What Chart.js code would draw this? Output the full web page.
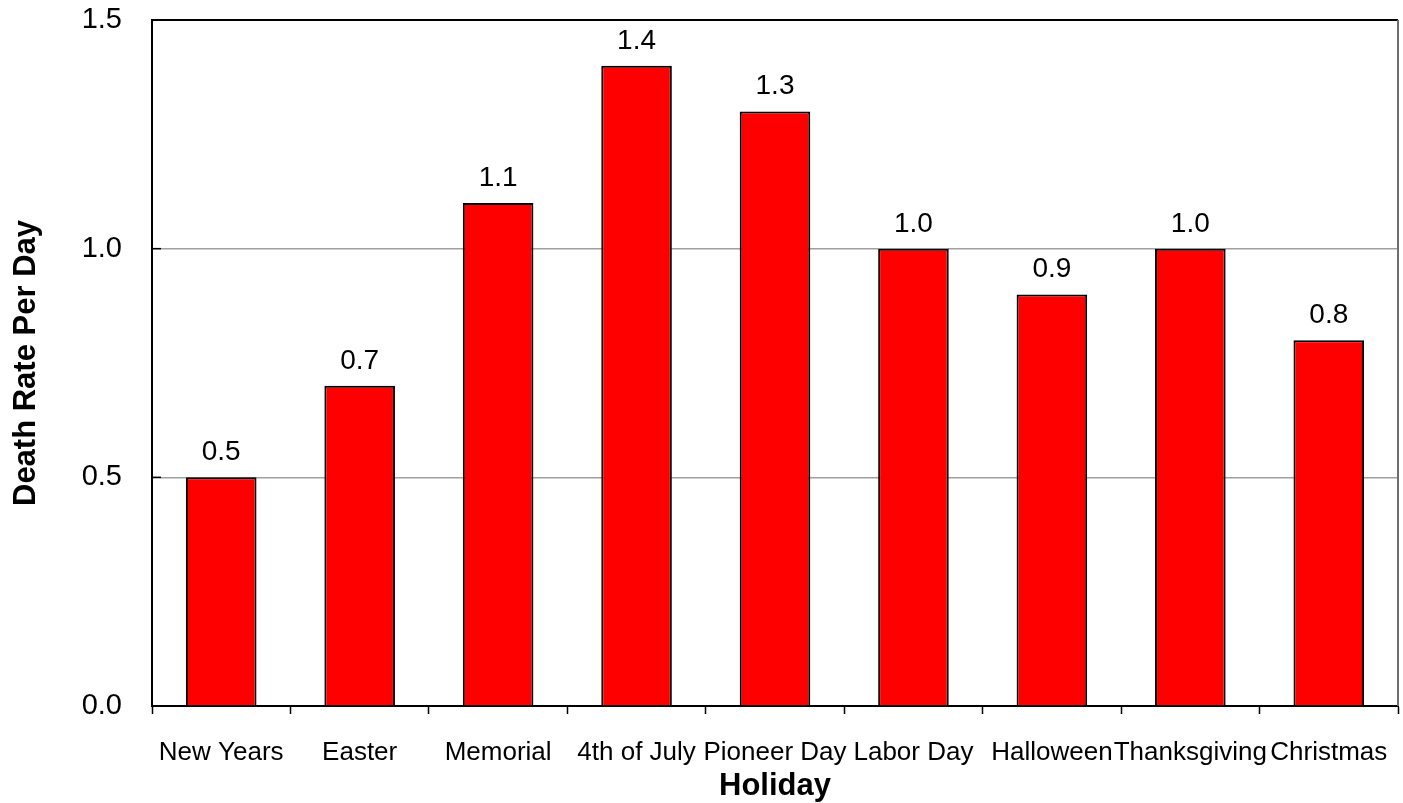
<!DOCTYPE html>
<html>
<head>
<meta charset="utf-8">
<script src="https://cdn.jsdelivr.net/npm/chart.js@4"></script>
<style>
  html, body { margin: 0; padding: 0; background: #fff; }
  #wrap { width: 1403px; height: 803px; }
</style>
</head>
<body>
<div id="wrap"><canvas id="holidayChart" width="1403" height="803"></canvas></div>
<script>
// chart data
const holidays = ['New Years', 'Easter', 'Memorial', '4th of July', 'Pioneer Day', 'Labor Day', 'Halloween', 'Thanksgiving', 'Christmas'];
const deathRates = [0.5, 0.7, 1.1, 1.4, 1.3, 1.0, 0.9, 1.0, 0.8];
const yTicks = [0.0, 0.5, 1.0, 1.5];

const FONT = '"Liberation Sans", Arial, sans-serif';

// value labels above bars, inner y ticks, top/right frame
const extrasPlugin = {
    id: 'extras',
    afterDatasetsDraw(chart) {
        const ctx = chart.ctx;
        const area = chart.chartArea;
        const y = chart.scales.y;
        ctx.save();

        // frame top + right
        ctx.strokeStyle = '#000';
        ctx.lineWidth = 2;
        ctx.beginPath();
        ctx.moveTo(area.left, area.top);
        ctx.lineTo(area.right, area.top);
        ctx.stroke();
        ctx.strokeStyle = '#6e6e6e';
        ctx.beginPath();
        ctx.moveTo(area.right, area.top);
        ctx.lineTo(area.right, area.bottom);
        ctx.stroke();

        // inward tick marks on the y axis
        ctx.strokeStyle = '#000';
        ctx.lineWidth = 1.5;
        yTicks.forEach(v => {
            const py = y.getPixelForValue(v);
            ctx.beginPath();
            ctx.moveTo(area.left, py);
            ctx.lineTo(area.left + 9, py);
            ctx.stroke();
        });

        // data labels
        ctx.fillStyle = '#000';
        ctx.font = '28px ' + FONT;
        ctx.textAlign = 'center';
        ctx.textBaseline = 'alphabetic';
        chart.getDatasetMeta(0).data.forEach((bar, i) => {
            ctx.fillText(deathRates[i].toFixed(1), bar.x, bar.y - 17);
        });
        ctx.restore();
    }
};

window.onload = function () {
    const ctx = document.getElementById('holidayChart').getContext('2d');
    new Chart(ctx, {
        type: 'bar',
        data: {
            labels: holidays,
            datasets: [{
                data: deathRates,
                backgroundColor: '#ff0000',
                borderColor: '#000',
                borderWidth: 2,
                borderSkipped: 'bottom',
                barPercentage: 0.51,
                categoryPercentage: 1.0
            }]
        },
        options: {
            responsive: false,
            animation: false,
            layout: { padding: { left: 0, right: 5, top: 20, bottom: 0 } },
            plugins: {
                legend: { display: false },
                tooltip: { enabled: false }
            },
            scales: {
                x: {
                    offset: true,
                    afterFit: (scale) => {
                        scale.height = 97;
                        scale.paddingLeft = 0;
                        scale.paddingRight = 0;
                    },
                    grid: {
                        offset: true,
                        drawOnChartArea: false,
                        drawTicks: true,
                        tickLength: 8,
                        tickColor: '#000',
                        tickWidth: 1.5
                    },
                    border: { display: true, color: '#000', width: 2 },
                    ticks: {
                        autoSkip: false,
                        maxRotation: 0,
                        minRotation: 0,
                        padding: 23,
                        color: '#000',
                        font: { family: FONT, size: 26 }
                    },
                    title: {
                        display: true,
                        text: 'Holiday',
                        color: '#000',
                        font: { family: FONT, size: 31, weight: 'bold', lineHeight: 1 },
                        padding: { top: 0, bottom: 1 }
                    }
                },
                y: {
                    min: 0,
                    max: 1.5,
                    afterFit: (scale) => {
                        scale.width = 152;
                        scale.paddingTop = 0;
                        scale.paddingBottom = 0;
                    },
                    afterBuildTicks: (scale) => { scale.ticks = yTicks.map(v => ({ value: v })); },
                    grid: {
                        drawTicks: false,
                        color: (c) => (c.tick && (c.tick.value === 0.5 || c.tick.value === 1)) ? '#a0a0a0' : 'rgba(0,0,0,0)',
                        lineWidth: 1.5
                    },
                    border: { display: true, color: '#000', width: 2 },
                    ticks: {
                        padding: 30,
                        color: '#000',
                        font: { family: FONT, size: 29 },
                        callback: (v) => Number(v).toFixed(1)
                    },
                    title: {
                        display: true,
                        text: 'Death Rate Per Day',
                        color: '#000',
                        font: { family: FONT, size: 31, weight: 'bold', lineHeight: 1 },
                        padding: { top: 11, bottom: 0 }
                    }
                }
            }
        },
        plugins: [extrasPlugin]
    });
};
</script>
</body>
</html>
